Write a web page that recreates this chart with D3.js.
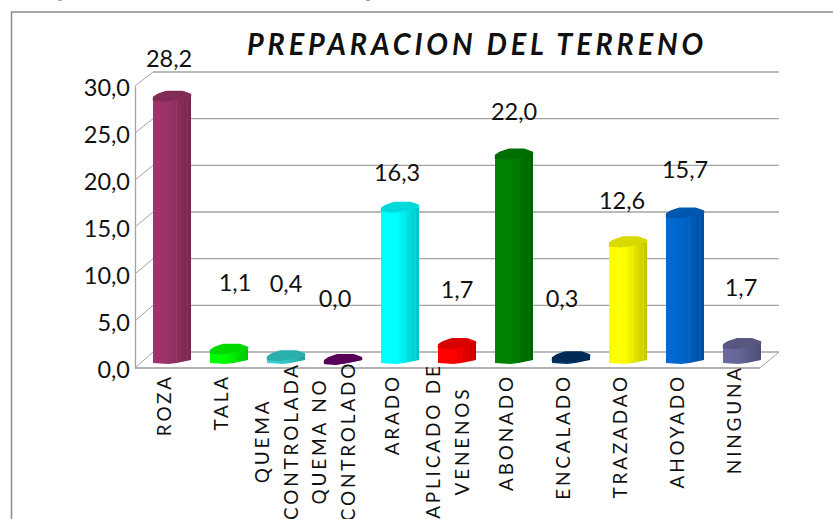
<!DOCTYPE html>
<html>
<head>
<meta charset="utf-8">
<script src="https://cdn.jsdelivr.net/npm/d3@7"></script>
<style>
  html, body { margin: 0; padding: 0; background: #fff; }
  svg { display: block; }
  text { font-family: Lato, "Open Sans", sans-serif; fill: #111; }
</style>
</head>
<body>
<div id="chart"></div>
<script>
// chart values
var categories = ['ROZA', 'TALA', 'QUEMA|CONTROLADA', 'QUEMA NO|CONTROLADO', 'ARADO',
  'APLICADO DE|VENENOS', 'ABONADO', 'ENCALADO', 'TRAZADAO', 'AHOYADO', 'NINGUNA'];
var values = [28.2, 1.1, 0.4, 0.0, 16.3, 1.7, 22.0, 0.3, 12.6, 15.7, 1.7];
var colors = ['#993366', '#00ff00', '#33cccc', '#660066', '#00ffff', '#ff0000', '#008000', '#003366', '#ffff00', '#0066cc', '#666699'];
var yTicks = [0, 5, 10, 15, 20, 25, 30];
var title = 'PREPARACION DEL TERRENO';

var width = 833,
    height = 519;

var svg = d3.select('#chart')
  .append('svg')
  .attr('width', width)
  .attr('height', height);

var comma = d3.formatLocale({decimal: ',', thousands: '.', grouping: [3], currency: ['', '']}).format('.1f');

// Plot box: front plane and back wall are offset to fake the 3d look
var floorFront = 368, floorBack = 352, topFront = 86, topBack = 72;
var leftFront = 135, leftBack = 153, rightFront = 760, rightBack = 779;

var x = d3.scaleBand()
  .domain(categories)
  .range([143.5, 770.5])
  .paddingInner(1 / 3)
  .paddingOuter(1 / 6);

var yFront = d3.scaleLinear().domain([0, 30]).range([floorFront, topFront]);
var yBack = d3.scaleLinear().domain([0, 30]).range([floorBack, topBack]);
var yBar = d3.scaleLinear().domain([0, 30]).range([362, 82]);

var lineColor = '#a3a3a3';

// Outer frame, runs off the page on the right and bottom
svg.append('path')
  .attr('d', 'M11.5,' + (height + 5) + 'V12H' + (width + 5))
  .attr('fill', 'none')
  .attr('stroke', '#8c8c8c')
  .attr('stroke-width', 1.5);

// two specks of the page above the frame
svg.selectAll('rect.speck')
  .data([58, 366])
  .enter().append('rect')
  .attr('class', 'speck')
  .attr('x', function(d) { return d; })
  .attr('y', 0)
  .attr('width', 4)
  .attr('height', 1)
  .attr('fill', '#aaa');

var grid = svg.append('g');

grid.selectAll('line.back')
  .data(yTicks)
  .enter().append('line')
  .attr('class', 'back')
  .attr('x1', leftBack)
  .attr('x2', rightBack)
  .attr('y1', function(d) { return yBack(d); })
  .attr('y2', function(d) { return yBack(d); })
  .attr('stroke', lineColor)
  .attr('stroke-width', 1.3);

grid.selectAll('line.side')
  .data(yTicks)
  .enter().append('line')
  .attr('class', 'side')
  .attr('x1', leftFront)
  .attr('x2', leftBack)
  .attr('y1', function(d) { return yFront(d); })
  .attr('y2', function(d) { return yBack(d); })
  .attr('stroke', lineColor);

grid.append('line')
  .attr('x1', rightFront).attr('x2', rightBack)
  .attr('y1', floorFront).attr('y2', floorBack)
  .attr('stroke', lineColor);

grid.append('line')
  .attr('x1', leftFront).attr('x2', rightFront)
  .attr('y1', floorFront).attr('y2', floorFront)
  .attr('stroke', '#999')
  .attr('stroke-width', 1.6);

// Value axis, only the labels and domain line come from the axis
var yAxis = svg.append('g')
  .attr('transform', 'translate(' + leftFront + ',0)')
  .call(d3.axisLeft(yFront).tickValues(yTicks).tickSize(0).tickPadding(5).tickFormat(comma));

yAxis.select('.domain').attr('stroke', lineColor).attr('stroke-width', 1.3);
yAxis.selectAll('text')
  .attr('y', 1.5)
  .style('font-size', '23.5px')
  .style('fill', '#111');

// Outline of the lumpy cylinder, as fractions of the bar width and px offsets
var capShape = [[0, -2], [0.12, -5], [0.35, -8], [0.78, -8], [1, -5], [1, -2], [0.62, 1], [0.3, 3], [0, 2]];
var bottomShape = [[1, -3], [0.62, 0], [0.4, 1], [0, 0]];

var defs = svg.append('defs');

colors.forEach(function(c, i) {
  var grad = defs.append('linearGradient').attr('id', 'bar' + i);
  var base = d3.color(c);
  grad.append('stop').attr('offset', '0%').attr('stop-color', base.brighter(0.1));
  grad.append('stop').attr('offset', '40%').attr('stop-color', base);
  grad.append('stop').attr('offset', '62%').attr('stop-color', base.darker(0.25));
  grad.append('stop').attr('offset', '100%').attr('stop-color', base.darker(0.75));
});

var capLine = d3.line().curve(d3.curveCardinalClosed.tension(0.8));
var bars = svg.selectAll('g.bar')
  .data(values)
  .enter().append('g')
  .attr('class', 'bar');

bars.append('path')
  .attr('d', function(d, i) {
    var x0 = x(categories[i]), w = x.bandwidth(), top = yBar(d), bottom = yBar(0) + 1;
    var p = 'M' + x0 + ',' + top + 'L' + (x0 + w) + ',' + (top - 3) + 'L' + (x0 + w) + ',' + (bottom - 3);
    bottomShape.forEach(function(s) {
      p += 'L' + (x0 + s[0] * w) + ',' + (bottom + s[1]);
    });
    return p + 'Z';
  })
  .attr('fill', function(d, i) { return 'url(#bar' + i + ')'; });

// thin highlight edges on the right of the column
bars.filter(function(d) { return d > 1; })
  .selectAll('line')
  .data(function(d) {
    var idx = values.indexOf(d);
    return [0.62, 0.9].map(function(f) { return {f: f, v: d, i: idx}; });
  })
  .enter().append('line')
  .attr('x1', function(d) { return x(categories[d.i]) + d.f * x.bandwidth(); })
  .attr('x2', function(d) { return x(categories[d.i]) + d.f * x.bandwidth(); })
  .attr('y1', function(d) { return yBar(d.v) + 1; })
  .attr('y2', yBar(0) - 1)
  .attr('stroke', function(d) { return d3.color(colors[d.i]).brighter(0.5); })
  .attr('stroke-opacity', 0.55)
  .attr('stroke-width', 0.8);

bars.append('path')
  .attr('d', function(d, i) {
    var x0 = x(categories[i]), w = x.bandwidth(), top = yBar(d);
    return capLine(capShape.map(function(s) { return [x0 + s[0] * w, top + s[1]]; }));
  })
  .attr('fill', function(d, i) { return d3.color(colors[i]).darker(0.45); });

// Data labels were dragged by hand in the original, so each has its own lift
var labelLift = [40, 69, 74, 63, 37, 56, 45, 60, 44, 46, 58];
var labelShift = [-3, 6, 0, -8, -3, 0, 0, -9, -6, 0, -1];

svg.selectAll('text.value')
  .data(values)
  .enter().append('text')
  .attr('class', 'value')
  .attr('x', function(d, i) { return x(categories[i]) + x.bandwidth() / 2 + labelShift[i]; })
  .attr('y', function(d, i) { return yBar(d) - labelLift[i]; })
  .attr('dy', '0.35em')
  .attr('text-anchor', 'middle')
  .style('font-size', '23.5px')
  .text(function(d) { return comma(d); });

// Category labels, rotated. Wrapped ones are centred on the same line
svg.selectAll('g.cat')
  .data(categories)
  .enter().append('g')
  .attr('class', 'cat')
  .each(function(c) {
    var lines = c.split('|');
    var cx = x(c) + x.bandwidth() / 2;
    var g = d3.select(this);
    lines.forEach(function(t, j) {
      var tx = lines.length == 1 ? cx - 8 : cx - 24 + j * 29;
      var ty = lines.length == 1 ? (c == categories[10] ? 365 : 374) : 441;
      g.append('text')
        .attr('transform', 'translate(' + tx + ',' + ty + ') rotate(-90)')
        .attr('text-anchor', lines.length == 1 ? 'end' : 'middle')
        .attr('dy', '0.35em')
        .style('font-size', '19px')
        .style('letter-spacing', '2.8px')
        .text(t);
    });
  });

svg.append('text')
  .attr('x', 247)
  .attr('y', 55)
  .attr('textLength', 460)
  .attr('lengthAdjust', 'spacingAndGlyphs')
  .style('font-size', '30px')
  .style('font-weight', 'bold')
  .style('font-style', 'italic')
  .style('letter-spacing', '4px')
  .text(title);
</script>
</body>
</html>
